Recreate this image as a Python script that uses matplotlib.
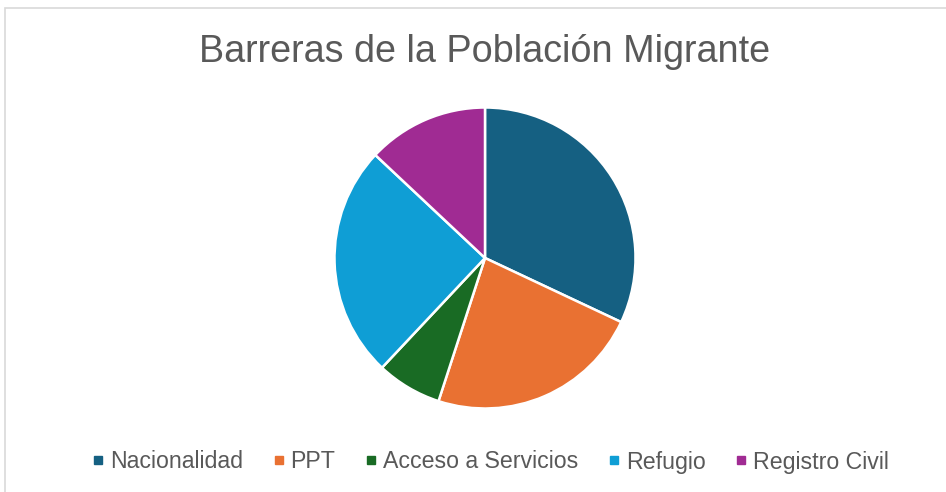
import matplotlib.pyplot as plt
from matplotlib.lines import Line2D
from matplotlib.patches import Rectangle

# Data
labels = ["Nacionalidad", "PPT", "Acceso a Servicios", "Refugio", "Registro Civil"]
values = [32, 23, 7, 25, 13]
colors = ["#156082", "#E97132", "#196B24", "#0F9ED5", "#A02B93"]

plt.rcParams['font.family'] = ['Liberation Sans', 'DejaVu Sans']

W, H = 946, 492
fig = plt.figure(figsize=(W / 100, H / 100), dpi=100)

# light chart frame
fig.patches.append(Rectangle((5 / W, -0.1), 1.1, 1 - 8 / H + 0.1, transform=fig.transFigure,
                             fill=False, edgecolor="#D9D9D9", linewidth=1.2))

cx, cy, r = 485, 258, 152
ax = fig.add_axes([(cx - r) / W, 1 - (cy + r) / H, 2 * r / W, 2 * r / H])
ax.pie(values, colors=colors, startangle=90, counterclock=False,
       wedgeprops=dict(edgecolor="white", linewidth=1.8))
ax.set_xlim(-1.01, 1.01)
ax.set_ylim(-1.01, 1.01)
ax.set_aspect("equal")
ax.axis("off")

fig.text(cx / W, 1 - 52 / H, "Barreras de la Población Migrante", ha="center", va="center",
         fontsize=27.2, color="#595959")

handles = [Line2D([], [], marker="s", linestyle="none", markersize=6, color=c) for c in colors]
fig.legend(handles, labels, loc="center", bbox_to_anchor=(489 / W, 1 - 462 / H), ncol=5,
           frameon=False, fontsize=16.7, labelcolor="#595959", handletextpad=0.1,
           columnspacing=1.15, handlelength=0.8)

fig.savefig("out.png", dpi=100)
